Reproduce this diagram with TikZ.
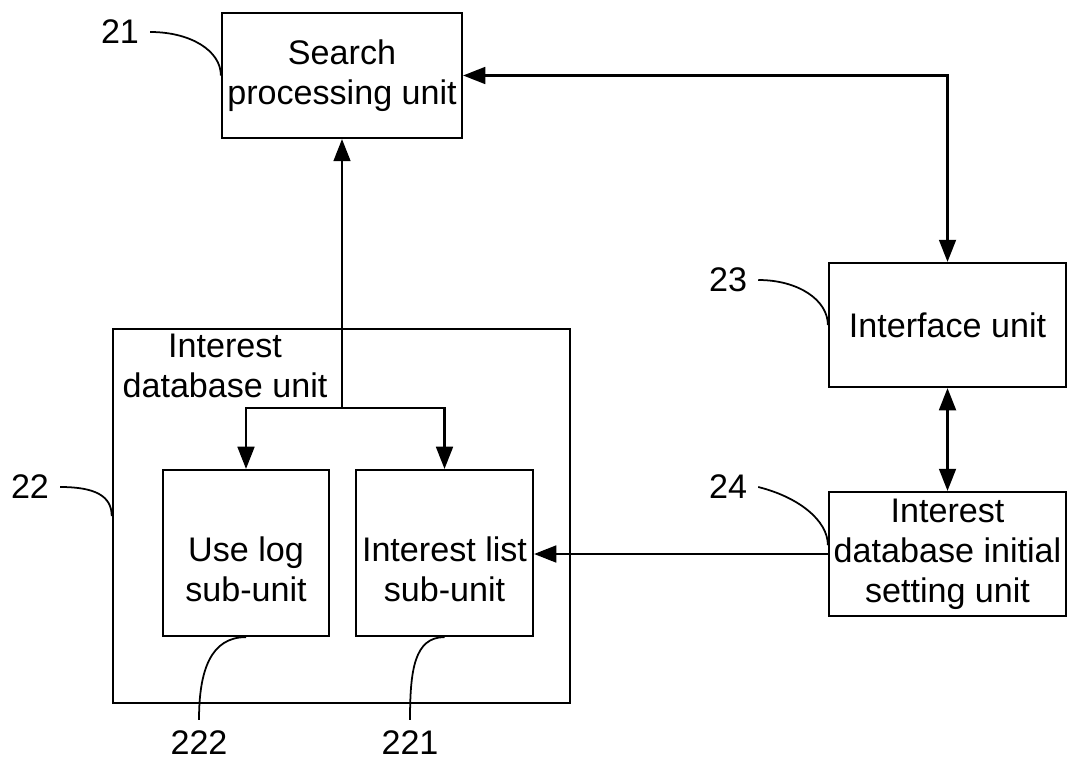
\documentclass[tikz,border=0pt]{standalone}
\usepackage{fontspec}
\setmainfont{Liberation Sans}
\usetikzlibrary{arrows.meta, positioning, calc}

\tikzset{
  unitbox/.style={draw, line width=0.6pt, inner sep=0pt, align=center},
  reflabel/.style={inner sep=3pt},
  leader/.style={line width=0.5pt},
  link/.style={line width=0.6pt, -{Triangle[length=6.3pt, width=4.8pt]}},
  dlink/.style={line width=0.6pt, {Triangle[length=6.3pt, width=4.8pt]}-{Triangle[length=6.3pt, width=4.8pt]}}
}

\begin{document}
\begin{tikzpicture}[x=0.01cm, y=-0.01cm, font=\fontsize{9.7pt}{11.4pt}\selectfont]
    \useasboundingbox (0,0) rectangle (1068,761);

    % main units
    \node[unitbox, minimum width=2.4cm, minimum height=1.25cm] (search) at (342,75.5) {Search\\processing unit};
    \node[unitbox, minimum width=2.37cm, minimum height=1.24cm] (iface) at (947.5,325) {Interface unit};
    \node[unitbox, minimum width=2.37cm, minimum height=1.24cm] (initset) at (947.5,554) {Interest\\database initial\\setting unit};

    % interest database unit with its two sub-units
    \node[unitbox, minimum width=4.57cm, minimum height=3.74cm] (idb) at (341.4,516) {};
    \node[align=center, inner sep=0pt] (idbtext) at (225,366) {Interest\\database unit};
    \node[unitbox, minimum width=1.66cm, minimum height=1.66cm] (uselog) at (246,553) {};
    \node[align=center, inner sep=0pt] (uselogtext) at (246,569) {Use log\\sub-unit};
    \node[unitbox, minimum width=1.77cm, minimum height=1.66cm] (intlist) at (444.5,553) {};
    \node[align=center, inner sep=0pt] (intlisttext) at (444.5,569) {Interest list\\sub-unit};

    % connections
    \coordinate (branch) at (342,408);
    \draw[link] (branch) -- (search.south);
    \draw[link] (branch) -| (uselog.north);
    \draw[link] (branch) -| (intlist.north);
    \draw[dlink] (iface.north) |- (search.east);
    \draw[dlink] (iface.south) -- (initset.north);
    \draw[link] (initset.west) -- (initset.west -| intlist.east);

    % reference numerals
    \node[reflabel] (n21) at (120,32) {21};
    \node[reflabel] (n22) at (30,487) {22};
    \node[reflabel] (n23) at (728,280) {23};
    \node[reflabel] (n24) at (728,487) {24};
    \node[reflabel] (n222) at (199,743) {222};
    \node[reflabel] (n221) at (410,743) {221};

    \draw[leader] (n21.east) .. controls +(40,0) and +(0,-25) .. (search.west);
    \draw[leader] (n22.east) .. controls +(35,0) and +(0,-20) .. (idb.west);
    \draw[leader] (n23.east) .. controls +(40,0) and +(0,-25) .. (iface.west);
    \draw[leader] (n24.east) .. controls +(40,10) and +(0,-25) .. ([yshift=2.5pt]initset.west);
    \draw[leader] (uselog.south) .. controls +(-35,0) and +(0,-50) .. (n222.north);
    \draw[leader] (intlist.south) .. controls +(-30,0) and +(0,-50) .. (n221.north);
\end{tikzpicture}
\end{document}
